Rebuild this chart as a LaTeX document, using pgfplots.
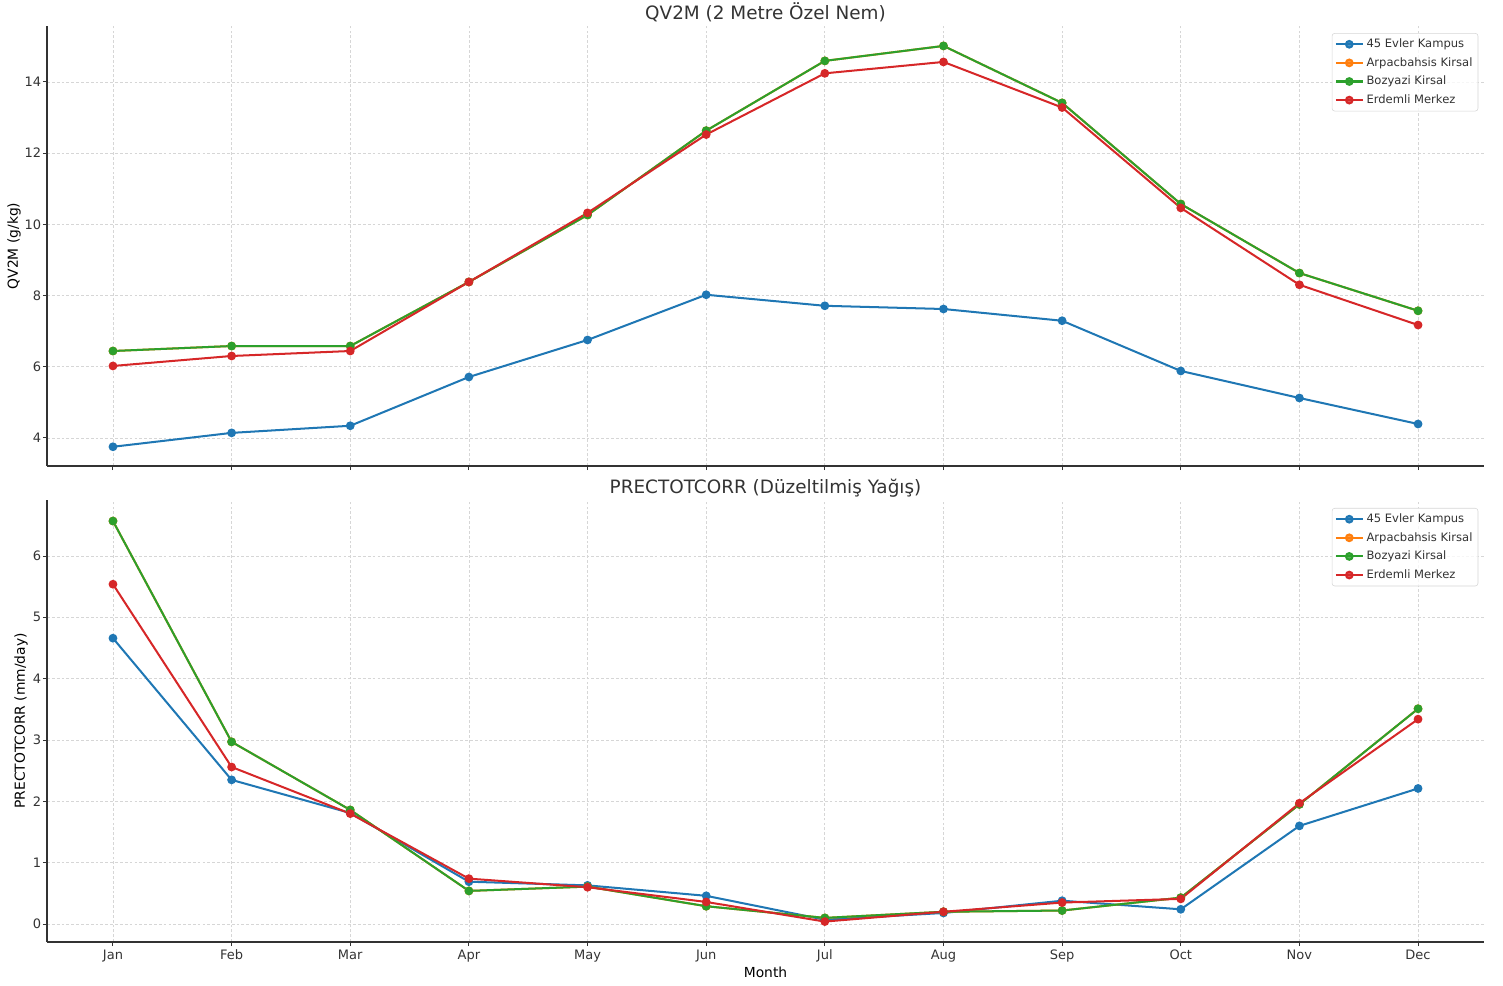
\documentclass[border=0pt]{standalone}
\usepackage{fontspec}
\setmainfont{DejaVu Sans}
\usepackage{pgfplots}
\pgfplotsset{compat=1.18}
\definecolor{tabblue}{HTML}{1F77B4}
\definecolor{taborange}{HTML}{FF7F0E}
\definecolor{tabgreen}{HTML}{2CA02C}
\definecolor{tabred}{HTML}{D62728}
\definecolor{spine}{HTML}{333333}
\definecolor{txt}{HTML}{333333}
\definecolor{gridc}{HTML}{D6D6D6}

\pgfplotsset{
  panel/.style={
    scale only axis,
    width=1034.64bp,
    xmin=-0.556, xmax=11.556,
    axis x line*=bottom, axis y line*=left,
    axis line style={spine, line width=1bp, -},
    tick align=outside,
    major tick length=3bp,
    tick style={spine, line width=0.7bp},
    xtick={0,...,11},
    grid=major,
    major grid style={gridc, dash pattern=on 2bp off 1.5bp, line width=0.5bp},
    /pgf/number format/assume math mode=true,
    tick label style={font=\fontsize{9.4}{11}\selectfont, text=txt},
    xticklabel style={inner sep=1bp, yshift=-1.4bp},
    yticklabel style={inner sep=1bp},
    label style={font=\fontsize{9.9}{11}\selectfont, text=txt},
    every axis title/.style={font=\fontsize{13.3}{15}\selectfont, text=txt, at={(0.5,1)}, anchor=base, yshift=4.6bp},
    legend style={font=\fontsize{8.35}{10}\selectfont, text=txt, draw=gridc, rounded corners=2bp,
      fill=white, fill opacity=0.8, text opacity=1, anchor=north east,
      row sep=1.6bp, inner xsep=2bp, inner ysep=2bp},
    legend cell align=left,
    legend image code/.code={
      \draw[mark repeat=2, mark phase=2] plot coordinates {(0bp,0bp)(9.7bp,0bp)(19.4bp,0bp)};
    },
    every axis plot/.append style={line width=1.45bp, mark=*, mark size=2.4bp, mark options={solid}},
  }
}

\begin{document}
\begin{tikzpicture}
\useasboundingbox (0,0) rectangle (1082.16bp,709.2bp);

% Top panel
\begin{axis}[panel,
  at={(33.84bp,373.68bp)}, anchor=south west,
  height=316.8bp,
  ymin=3.21, ymax=15.57,
  ytick={4,6,8,10,12,14},
  xticklabels={},
  title={QV2M (2 Metre Özel Nem)},
  ylabel={QV2M (g/kg)},
  every axis y label/.style={at={(axis description cs:-0.0230,0.5)}, rotate=90, anchor=center},
  legend style={at={(0.996,0.984)}},
]
\addplot[tabblue, mark options={fill=tabblue}] coordinates {
(0,3.75)(1,4.14)(2,4.34)(3,5.71)(4,6.75)(5,8.02)(6,7.71)(7,7.62)(8,7.29)(9,5.88)(10,5.12)(11,4.39)};
\addlegendentry{45 Evler Kampus}
\addplot[taborange, mark options={fill=taborange}] coordinates {
(0,6.44)(1,6.58)(2,6.58)(3,8.38)(4,10.26)(5,12.63)(6,14.59)(7,15.01)(8,13.41)(9,10.57)(10,8.63)(11,7.57)};
\addlegendentry{Arpacbahsis Kirsal}
\addplot[tabgreen, mark options={fill=tabgreen}] coordinates {
(0,6.44)(1,6.58)(2,6.58)(3,8.38)(4,10.26)(5,12.63)(6,14.59)(7,15.01)(8,13.41)(9,10.57)(10,8.63)(11,7.57)};
\addlegendentry{Bozyazi Kirsal}
\addplot[tabred, mark options={fill=tabred}] coordinates {
(0,6.02)(1,6.30)(2,6.44)(3,8.38)(4,10.32)(5,12.52)(6,14.24)(7,14.56)(8,13.28)(9,10.46)(10,8.30)(11,7.17)};
\addlegendentry{Erdemli Merkez}
\end{axis}

% Bottom panel
\begin{axis}[panel,
  at={(33.84bp,30.96bp)}, anchor=south west,
  height=318.24bp,
  ymin=-0.293, ymax=6.913,
  ytick={0,1,2,3,4,5,6},
  xticklabels={Jan,Feb,Mar,Apr,May,Jun,Jul,Aug,Sep,Oct,Nov,Dec},
  title={PRECTOTCORR (Düzeltilmiş Yağış)},
  xlabel={Month},
  ylabel={PRECTOTCORR (mm/day)},
  every axis x label/.style={at={(axis description cs:0.5,0)}, anchor=base, yshift=-25.8bp},
  every axis y label/.style={at={(axis description cs:-0.0181,0.5)}, rotate=90, anchor=center},
  legend style={at={(0.996,0.982)}},
]
\addplot[tabblue, mark options={fill=tabblue}] coordinates {
(0,4.66)(1,2.35)(2,1.81)(3,0.69)(4,0.63)(5,0.46)(6,0.07)(7,0.18)(8,0.38)(9,0.24)(10,1.60)(11,2.21)};
\addlegendentry{45 Evler Kampus}
\addplot[taborange, mark options={fill=taborange}] coordinates {
(0,6.57)(1,2.97)(2,1.86)(3,0.54)(4,0.61)(5,0.29)(6,0.10)(7,0.20)(8,0.22)(9,0.43)(10,1.95)(11,3.51)};
\addlegendentry{Arpacbahsis Kirsal}
\addplot[tabgreen, mark options={fill=tabgreen}] coordinates {
(0,6.57)(1,2.97)(2,1.86)(3,0.54)(4,0.61)(5,0.29)(6,0.10)(7,0.20)(8,0.22)(9,0.43)(10,1.95)(11,3.51)};
\addlegendentry{Bozyazi Kirsal}
\addplot[tabred, mark options={fill=tabred}] coordinates {
(0,5.54)(1,2.56)(2,1.80)(3,0.74)(4,0.60)(5,0.36)(6,0.04)(7,0.20)(8,0.35)(9,0.41)(10,1.97)(11,3.34)};
\addlegendentry{Erdemli Merkez}
\end{axis}
\end{tikzpicture}
\end{document}
